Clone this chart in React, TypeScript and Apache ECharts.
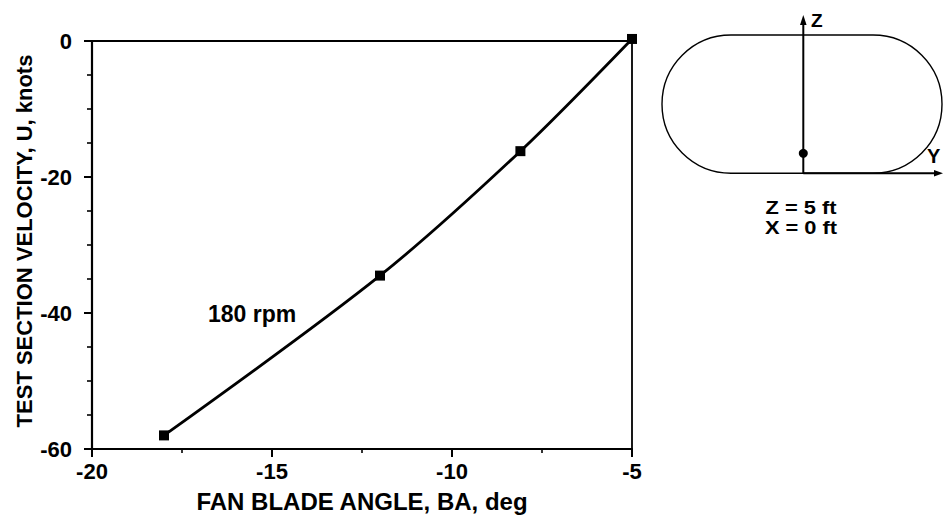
import { useEffect, useRef } from "react";
import * as echarts from "echarts";

// Data
const bladeAngle = [-18, -12, -8.1, -5];
const velocity = [-58, -34.5, -16.2, 0.3];
const seriesLabel = "180 rpm";
const xTitle = "FAN BLADE ANGLE, BA, deg";
const yTitle = "TEST SECTION VELOCITY, U, knots";
const insetLines = ["Z = 5 ft", "X = 0 ft"];

const FONT = '"Liberation Sans", Arial, Helvetica, sans-serif';

export default function App() {
  const ref = useRef<HTMLDivElement>(null);
  useEffect(() => {
    if (!ref.current) return;
    const chart = echarts.init(ref.current, null, { renderer: "svg" });
    const pts = bladeAngle.map((x, i) => [x, velocity[i]]);
    const labelStyle = {
      color: "#000",
      fontFamily: FONT,
      fontWeight: "bold" as const,
      fontSize: 22,
    };
    chart.setOption({
      animation: false,
      backgroundColor: "#fff",
      grid: {
        left: 92,
        top: 41,
        width: 540,
        height: 409,
        show: true,
        borderColor: "#000",
        borderWidth: 1.8,
        backgroundColor: "transparent",
      },
      xAxis: {
        type: "value",
        min: -20,
        max: -5,
        interval: 5,
        position: "bottom",
        axisLine: { show: true, onZero: false, lineStyle: { color: "#000", width: 2.2 } },
        axisTick: { show: true, length: 8, lineStyle: { color: "#000", width: 2 } },
        minorTick: { show: true, splitNumber: 2, length: 4, lineStyle: { color: "#000", width: 1.6 } },
        axisLabel: { ...labelStyle, margin: 11 },
        splitLine: { show: false },
        name: xTitle,
        nameLocation: "middle",
        nameGap: 40,
        nameTextStyle: { ...labelStyle, fontSize: 24 },
      },
      yAxis: {
        type: "value",
        min: -60,
        max: 0,
        interval: 20,
        axisLine: { show: true, onZero: false, lineStyle: { color: "#000", width: 2.2 } },
        axisTick: { show: true, length: 8, lineStyle: { color: "#000", width: 2 } },
        minorTick: { show: true, splitNumber: 4, length: 5, lineStyle: { color: "#000", width: 1.6 } },
        axisLabel: { ...labelStyle, margin: 20 },
        splitLine: { show: false },
      },
      series: [
        {
          name: seriesLabel,
          type: "line",
          data: pts,
          smooth: 0.3,
          clip: false,
          symbol: "rect",
          symbolSize: 10,
          itemStyle: { color: "#000" },
          lineStyle: { color: "#000", width: 2.8 },
        },
      ],
      graphic: [
        {
          type: "text",
          x: 24,
          y: 241,
          rotation: Math.PI / 2,
          style: { text: yTitle, font: `bold 22px ${FONT}`, fill: "#000", align: "center", verticalAlign: "middle" },
        },
        {
          type: "text",
          x: 208,
          y: 314,
          style: { text: seriesLabel, font: `bold 23px ${FONT}`, fill: "#000", verticalAlign: "middle" },
        },
        {
          type: "rect",
          shape: { x: 662, y: 35, width: 280, height: 138.3, r: 69 },
          style: { fill: "none", stroke: "#000", lineWidth: 1.4 },
        },
        {
          type: "line",
          shape: { x1: 803.3, y1: 173.3, x2: 803.3, y2: 22 },
          style: { stroke: "#000", lineWidth: 2 },
        },
        {
          type: "polygon",
          shape: { points: [[803.3, 15], [800, 25], [806.6, 25]] },
          style: { fill: "#000" },
        },
        {
          type: "line",
          shape: { x1: 803.3, y1: 173.3, x2: 936, y2: 173.3 },
          style: { stroke: "#000", lineWidth: 2 },
        },
        {
          type: "polygon",
          shape: { points: [[943, 173.3], [934, 170], [934, 176.6]] },
          style: { fill: "#000" },
        },
        {
          type: "circle",
          shape: { cx: 803.3, cy: 153.3, r: 4.5 },
          style: { fill: "#000" },
        },
        {
          type: "text",
          x: 811,
          y: 20,
          style: { text: "Z", font: `bold 19px ${FONT}`, fill: "#000", verticalAlign: "middle" },
        },
        {
          type: "text",
          x: 927,
          y: 156,
          style: { text: "Y", font: `bold 20px ${FONT}`, fill: "#000", verticalAlign: "middle" },
        },
        {
          type: "text",
          x: 801,
          y: 207,
          scaleX: 1.15,
          style: { text: insetLines[0], font: `bold 19px ${FONT}`, fill: "#000", align: "center", verticalAlign: "middle" },
        },
        {
          type: "text",
          x: 801,
          y: 227,
          scaleX: 1.15,
          style: { text: insetLines[1], font: `bold 19px ${FONT}`, fill: "#000", align: "center", verticalAlign: "middle" },
        },
      ],
    });
    return () => chart.dispose();
  }, []);
  return <div ref={ref} style={{ position: "absolute", left: 0, top: 0, width: 943, height: 518 }} />;
}
